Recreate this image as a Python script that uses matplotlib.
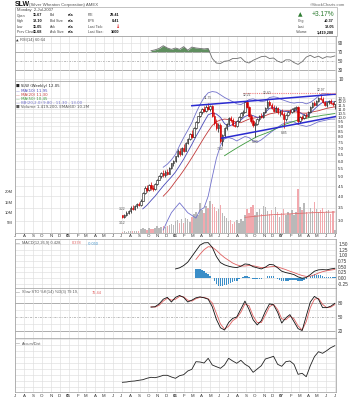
import numpy as np
import pandas as pd
import matplotlib
matplotlib.use("Agg")
import matplotlib.pyplot as plt
import matplotlib.dates as mdates
from matplotlib.patches import Rectangle

plt.rcParams['font.family'] = ['Liberation Sans', 'DejaVu Sans']

# ---------------- data ----------------
WEEK_START = '2005-07-04'
N_WEEKS = 105
OPEN = [3.20, 3.15, 3.22, 3.30, 3.35, 3.50, 3.45, 3.55, 3.65, 3.60, 3.80, 4.15, 4.40, 4.30, 4.55, 4.40, 4.35, 4.60, 4.85, 5.05,
        5.25, 5.10, 5.30, 5.20, 5.55, 5.85, 6.00, 6.35, 6.80, 6.50, 7.00, 6.80, 7.40, 7.80, 8.20, 8.00, 8.80, 9.50, 10.10, 10.70,
        11.00, 10.80, 11.30, 11.00, 11.40, 10.20, 9.40, 8.80, 9.20, 7.60, 8.10, 8.80, 9.30, 9.90, 9.70, 9.20, 9.00, 9.60, 10.00, 10.50,
        10.70, 11.90, 11.30, 10.20, 9.60, 9.20, 9.30, 9.80, 10.20, 10.00, 10.60, 11.20, 12.00, 11.60, 11.20, 10.80, 11.20, 10.60, 10.70, 10.40,
        9.80, 10.30, 10.70, 10.60, 11.00, 11.10, 11.30, 9.60, 10.00, 9.90, 10.30, 10.10, 10.70, 11.30, 11.80, 11.60, 12.10, 12.50, 12.40, 11.90,
        11.50, 11.90, 12.10, 11.80, 11.67]
HIGH = [3.22, 3.25, 3.35, 3.40, 3.55, 3.60, 3.60, 3.70, 3.75, 3.85, 4.20, 4.50, 4.55, 4.60, 4.70, 4.55, 4.65, 4.90, 5.10, 5.30,
        5.45, 5.40, 5.50, 5.60, 5.90, 6.10, 6.40, 6.90, 7.00, 7.10, 7.30, 7.50, 7.90, 8.30, 8.60, 8.90, 9.60, 10.20, 10.80, 11.20,
        11.40, 11.50, 11.75, 11.60, 11.50, 10.60, 9.80, 9.40, 9.40, 8.20, 8.90, 9.40, 10.00, 10.20, 9.90, 9.60, 9.70, 10.10, 10.60, 10.90,
        11.95, 12.21, 11.40, 10.40, 9.80, 9.50, 9.90, 10.30, 10.50, 10.70, 11.30, 12.40, 12.20, 11.80, 11.50, 11.40, 11.30, 10.90, 11.00, 10.60,
        10.40, 10.80, 11.00, 11.10, 11.30, 11.40, 11.40, 10.20, 10.30, 10.40, 10.50, 10.80, 11.40, 11.90, 12.10, 12.20, 12.60, 12.97, 12.60, 12.10,
        12.00, 12.30, 12.40, 11.95, 12.10]
LOW = [3.12, 3.12, 3.18, 3.25, 3.30, 3.40, 3.42, 3.50, 3.55, 3.58, 3.78, 4.10, 4.20, 4.25, 4.30, 4.25, 4.30, 4.55, 4.80, 4.95,
       5.00, 5.00, 5.10, 5.15, 5.50, 5.70, 5.95, 6.30, 6.40, 6.45, 6.70, 6.75, 7.30, 7.70, 7.90, 7.95, 8.70, 9.40, 10.00, 10.40,
       10.60, 10.70, 10.90, 10.80, 10.00, 9.20, 8.60, 8.40, 7.40, 7.20, 8.00, 8.60, 9.20, 9.50, 9.00, 8.90, 8.90, 9.50, 9.90, 10.20,
       10.60, 11.20, 10.00, 9.40, 8.90, 8.00, 9.20, 9.60, 9.90, 9.90, 10.50, 11.10, 11.40, 11.00, 10.60, 10.70, 10.40, 10.20, 10.30, 8.85,
       9.60, 10.20, 10.40, 10.50, 10.70, 10.90, 9.30, 9.40, 9.70, 9.80, 9.90, 10.00, 10.60, 11.20, 11.40, 11.50, 11.90, 12.20, 11.80, 11.40,
       11.30, 11.70, 11.70, 11.40, 11.05]
CLOSE = [3.15, 3.22, 3.30, 3.35, 3.50, 3.45, 3.55, 3.65, 3.60, 3.80, 4.15, 4.40, 4.30, 4.55, 4.40, 4.35, 4.60, 4.85, 5.05, 5.25,
         5.10, 5.30, 5.20, 5.55, 5.85, 6.00, 6.35, 6.80, 6.50, 7.00, 6.80, 7.40, 7.80, 8.20, 8.00, 8.80, 9.50, 10.10, 10.70, 11.00,
         10.80, 11.30, 11.00, 11.40, 10.20, 9.40, 8.80, 9.20, 7.60, 8.10, 8.80, 9.30, 9.90, 9.70, 9.20, 9.00, 9.60, 10.00, 10.50, 10.70,
         11.90, 11.30, 10.20, 9.60, 9.20, 9.30, 9.80, 10.20, 10.00, 10.60, 11.20, 12.00, 11.60, 11.20, 10.80, 11.20, 10.60, 10.70, 10.40, 9.80,
         10.30, 10.70, 10.60, 11.00, 11.10, 11.30, 9.60, 10.00, 9.90, 10.30, 10.10, 10.70, 11.30, 11.80, 11.60, 12.10, 12.50, 12.40, 11.90, 11.50,
         11.90, 12.10, 11.80, 11.68, 12.05]
VOLUME_M = [0.6, 0.8, 0.7, 0.9, 1.0, 0.9, 1.1, 1.0, 1.2, 1.8, 2.4, 2.0, 1.6, 2.2, 1.9, 1.7, 2.5, 3.4, 2.6, 3.0,
            3.6, 2.9, 3.3, 4.0, 4.4, 3.8, 5.6, 6.2, 5.0, 6.8, 4.8, 7.5, 6.9, 5.2, 7.8, 9.2, 10.4, 8.6, 14.8, 11.2,
            9.5, 13.2, 12.0, 15.6, 14.0, 12.4, 10.6, 11.8, 13.8, 9.6, 8.2, 7.4, 5.8, 6.5, 4.6, 5.4, 6.2, 4.8, 7.0, 5.6,
            8.6, 11.6, 9.8, 12.4, 13.5, 8.6, 10.2, 11.8, 9.4, 13.2, 12.6, 10.8, 9.2, 11.4, 8.4, 12.8, 10.0, 7.6, 9.8, 11.6,
            8.8, 10.2, 9.0, 11.4, 8.6, 10.0, 21.6, 12.8, 11.2, 14.6, 10.4, 9.4, 12.2, 10.6, 15.2, 11.8, 10.4, 11.0, 12.0, 9.6,
            10.8, 11.4, 9.2, 10.6, 1.4]

# indicator readings, one value every second week (weeks 0, 2, ..., 104)
MA10 = [None] * 5 + [3.45, 3.60, 3.80, 4.00, 4.25, 4.50, 4.75, 5.00, 5.30, 5.70, 6.15, 6.70, 7.30, 8.00, 8.70, 9.50,
                     10.30, 10.50, 10.40, 10.00, 9.30, 9.00, 9.20, 9.50, 9.70, 10.10, 10.30, 10.20, 10.00, 10.00, 10.60, 11.10,
                     11.20, 11.00, 10.80, 10.70, 10.70, 10.90, 10.70, 10.40, 10.20, 10.50, 11.00, 11.50, 11.90, 12.00, 12.00, 11.95]
MA20 = [None] * 10 + [4.00, 4.20, 4.45, 4.75, 5.05, 5.40, 5.80, 6.25, 6.75, 7.30, 7.90, 8.50, 9.10, 9.50, 9.70, 9.80,
                      9.75, 9.60, 9.40, 9.40, 9.60, 9.80, 9.90, 10.00, 10.05, 10.20, 10.40, 10.50, 10.60, 10.70, 10.80, 10.80,
                      10.70, 10.60, 10.50, 10.50, 10.60, 10.70, 10.80, 10.95, 11.10, 11.20, 11.30]
MA50 = [None] * 25 + [6.40, 6.60, 6.80, 7.00, 7.20, 7.40, 7.60, 7.80, 8.00, 8.15, 8.30, 8.45, 8.65, 8.85, 9.05, 9.25,
                      9.40, 9.55, 9.70, 9.80, 9.90, 10.00, 10.10, 10.15, 10.25, 10.30, 10.38, 10.45]
BB_UPPER = [None] * 10 + [5.6, 5.8, 6.1, 6.5, 7.2, 7.9, 8.6, 9.4, 10.5, 11.6, 12.6, 13.3, 13.5, 13.4, 13.0, 12.6,
                          12.3, 12.0, 11.7, 11.6, 11.9, 12.3, 12.4, 12.2, 12.0, 12.1, 12.6, 12.7, 12.6, 12.3, 12.1, 11.9,
                          11.8, 11.9, 11.9, 11.7, 11.9, 12.3, 12.8, 13.2, 13.2, 13.1, 13.0]
BB_LOWER = [None] * 10 + [2.7, 3.0, 3.3, 3.5, 3.7, 3.5, 3.3, 3.2, 3.1, 3.4, 3.5, 4.0, 5.0, 6.2, 7.2, 7.8,
                          7.9, 7.8, 7.6, 7.8, 8.0, 7.9, 7.6, 7.5, 7.7, 8.0, 8.3, 8.6, 8.9, 9.2, 9.4, 9.5,
                          9.5, 9.2, 9.1, 9.0, 9.1, 9.3, 9.5, 9.6, 9.7, 9.8, 9.8]
VOL_EMA60 = [None] * 30 + [7.6, 7.8, 8.0, 8.2, 8.4, 8.6, 8.8, 8.9, 9.0, 9.1, 9.2, 9.3, 9.4, 9.5, 9.6, 9.7,
                           9.8, 9.9, 10.0, 10.0, 10.1, 10.1, 10.2]
RSI14 = [None] * 7 + [72, 74, 77, 83, 78, 75, 78, 75, 81, 73, 80, 78, 77, 76, 77, 55, 45, 44, 49, 50, 55, 55, 57, 48,
                      45, 51, 55, 59, 60, 55, 56, 49, 46, 52, 52, 46, 42, 48, 58, 62, 57, 60, 55, 59, 58, 60.64]
MACD = [None] * 13 + [0.40, 0.45, 0.55, 0.70, 0.95, 1.20, 1.45, 1.55, 1.56, 1.35, 0.95, 0.68, 0.58, 0.52, 0.48, 0.46,
                      0.52, 0.62, 0.60, 0.50, 0.45, 0.40, 0.48, 0.60, 0.58, 0.45, 0.30, 0.24, 0.20, 0.15, 0.05, -0.01,
                      0.02, 0.15, 0.30, 0.36, 0.37, 0.36, 0.40, 0.428]
MACD_SIGNAL = [None] * 18 + [0.82, 1.05, 1.25, 1.38, 1.36, 1.22, 1.05, 0.90, 0.78, 0.66, 0.58, 0.53, 0.53, 0.55, 0.54,
                             0.50, 0.46, 0.46, 0.49, 0.51, 0.49, 0.43, 0.37, 0.30, 0.24, 0.17, 0.11, 0.07, 0.08, 0.14,
                             0.22, 0.28, 0.32, 0.35, 0.378]
STO_K = [None] * 7 + [71, 72, 78, 88, 92, 82, 92, 96, 92, 82, 86, 91, 93, 91, 88, 72, 45, 27, 22, 38, 47, 50, 67, 84,
                      66, 44, 33, 42, 62, 78, 76, 60, 37, 48, 55, 40, 25, 21, 52, 82, 94, 88, 70, 70, 73, 79.19]
STO_D = [None] * 7 + [72, 71, 75, 84, 90, 86, 88, 94, 93, 86, 84, 89, 92, 92, 89, 80, 58, 35, 24, 30, 42, 48, 60, 78,
                      74, 52, 38, 38, 54, 72, 77, 66, 46, 44, 52, 46, 31, 22, 40, 70, 88, 90, 77, 70, 71, 76.44]
ACC_DIST = [0, 0.6, 2, 2.6, 4, 5.2, 8, 10, 9.2, 11.2, 14, 14, 10.6, 8, 13.2, 15.2, 22.6, 26, 41.2, 40.6, 38.6, 48,
            34.6, 31.2, 28, 34.6, 48, 42.6, 38, 44, 36, 31.2, 20, 26.6, 33.2, 46.6, 49.2, 52, 36, 32, 41.2, 42.6,
            36, 16, 18, 11.2, 33.2, 51.2, 61.2, 58, 63.2, 69.2, 73.2]
# MACD histogram, weekly from week 36
MACD_HIST_START = 36
MACD_HIST = [0.38, 0.40, 0.40, 0.35, 0.30, 0.24, 0.18, 0.08, -0.01, -0.14, -0.27, -0.34, -0.37, -0.35, -0.32, -0.29,
             -0.26, -0.22, -0.18, -0.15, -0.12, -0.05, -0.01, 0.05, 0.09, 0.08, 0.05, 0.00, -0.04, -0.05, -0.05, -0.06,
             -0.06, -0.02, 0.02, 0.07, 0.11, 0.09, 0.07, 0.02, -0.04, -0.09, -0.13, -0.14, -0.13, -0.12, -0.10, -0.09,
             -0.09, -0.10, -0.12, -0.12, -0.12, -0.09, -0.05, 0.01, 0.07, 0.12, 0.16, 0.15, 0.14, 0.12, 0.09, 0.06,
             0.04, 0.05, 0.05, 0.05, 0.05]

# hand-drawn annotations (date, price)
TREND_UP_DATES = ['2006-02-27', '2007-07-06']
TREND_UP_PRICES = [11.45, 13.10]
TREND_LO_DATES = ['2006-06-09', '2007-07-06']
TREND_LO_PRICES = [7.85, 10.10]
RESIST_DATES = ['2006-08-21', '2007-07-06']
RESIST_PRICES = [13.25, 13.25]
HIGH_LABEL_WEEKS = [0, 42, 61, 71, 97]
LOW_LABEL_WEEKS = [0, 48, 65, 79]

MONTH_START = '2004-07-01'
MONTH_END = '2007-07-01'
PRICE_TICKS = [12.5, 12.0, 11.5, 11.0, 10.5, 10.0, 9.5, 9.0, 8.5, 8.0, 7.5, 7.0, 6.5, 6.0, 5.5, 5.0, 4.5, 4.0, 3.5, 3.0]
VOL_TICKS = [5, 10, 15, 20]

# ---------------- figure ----------------
W, H = 352, 400
fig = plt.figure(figsize=(W / 100, H / 100), dpi=100)
fig.patch.set_facecolor('white')

L, R = 15, 336


def px_axes(y0, y1, **kw):
    return fig.add_axes([L / W, 1 - y1 / H, (R - L) / W, (y1 - y0) / H], **kw)


dates = pd.date_range(WEEK_START, periods=N_WEEKS, freq='7D')
xd = mdates.date2num(dates)
xs = xd[::2]
months = pd.date_range(MONTH_START, MONTH_END, freq='MS')
xm = mdates.date2num(months)
X0 = mdates.date2num(pd.Timestamp('2004-07-01'))
X1 = mdates.date2num(pd.Timestamp('2007-07-06'))


def arr(v):
    return np.array([np.nan if a is None else a for a in v], float)


GRID = '#dedede'
SPINE = '#9a9a9a'
TXT = '#333333'
FS = 3.4


def style(ax):
    ax.set_xlim(X0, X1)
    ax.set_xticks(xm)
    ax.tick_params(axis='x', length=0, labelbottom=False)
    ax.grid(True, axis='x', color=GRID, lw=0.45)
    ax.set_axisbelow(True)
    for s in ax.spines.values():
        s.set_color(SPINE)
        s.set_linewidth(0.5)
    ax.yaxis.tick_right()
    ax.tick_params(axis='y', length=0, labelsize=FS, pad=1.5, colors=TXT)


def month_labels(ax, ypix):
    for d, x in zip(months, xm):
        if d.month == 1:
            s, w = d.strftime('%y'), 'bold'
        else:
            s, w = d.strftime('%b')[0], 'normal'
        fig.text((L + (x - X0) / (X1 - X0) * (R - L)) / W, 1 - ypix / H, s, fontsize=3.2,
                 fontweight=w, color=TXT, ha='center', va='center')


# ---------------- header ----------------
hdr = fig.add_axes([0, 0, 1, 1], zorder=10)
hdr.set_xlim(0, W)
hdr.set_ylim(H, 0)
hdr.axis('off')
hdr.patch.set_visible(False)
hdr.text(15, 4.5, 'SLW', fontsize=5.0, fontweight='bold', va='center', color='#111')
hdr.text(29, 4.8, '(Silver Wheaton Corporation) AMEX', fontsize=3.2, va='center', color='#555')
hdr.text(345, 4.8, '\u00a9StockCharts.com', fontsize=3.1, va='center', ha='right', color='#666')
hdr.add_patch(Rectangle((15, 7), 322, 29, fill=False, ec='#aaaaaa', lw=0.5))
hdr.text(17, 10.5, 'Monday  2-Jul-2007', fontsize=3.0, va='center', color='#444')
rows = [15.5, 21, 26.5, 32]
c1 = [('Open', '11.67'), ('High', '12.10'), ('Low', '11.05'), ('Prev Close', '11.68')]
c2 = [('Bid', 'n/a'), ('Bid Size', 'n/a'), ('Ask', 'n/a'), ('Ask Size', 'n/a')]
c3 = [('P/E', '29.41'), ('EPS', '0.41'), ('Last Tick:', None), ('Last Size:', '1600')]
for y, (a, b), (c, d), (e, f) in zip(rows, c1, c2, c3):
    hdr.text(17, y, a, fontsize=2.5, va='center', color='#444')
    hdr.text(42, y, b, fontsize=2.8, va='center', ha='right', fontweight='bold', color='#111')
    hdr.text(50, y, c, fontsize=2.5, va='center', color='#444')
    hdr.text(68, y, d, fontsize=2.8, va='center', fontweight='bold', color='#111')
    hdr.text(88, y, e, fontsize=2.5, va='center', color='#444')
    if f is not None:
        hdr.text(119, y, f, fontsize=2.8, va='center', ha='right', fontweight='bold', color='#111')
    else:
        hdr.text(119, y, '\u2193', fontsize=3.6, va='center', ha='right', fontweight='bold', color='#dd0000',
                 family='DejaVu Sans')
hdr.text(300, 15, '\u25b2', fontsize=4.2, va='center', ha='center', color='#2e7d32', family='DejaVu Sans')
hdr.text(334, 15, '+3.17%', fontsize=4.8, va='center', ha='right', color='#2e7d32')
for y, a, b in [(21, 'Chg', '+0.37'), (26.5, 'Last', '12.05'), (32, 'Volume', '1,419,200')]:
    hdr.text(296 if a == 'Volume' else 298, y, a, fontsize=2.5, va='center', ha='left', color='#444')
    hdr.text(334, y, b, fontsize=2.8, va='center', ha='right', fontweight='bold', color='#111')

# ---------------- RSI panel ----------------
ax_rsi = px_axes(36, 81)
style(ax_rsi)
ax_rsi.set_ylim(5.6, 104.3)
ax_rsi.set_yticks([90, 70, 50, 30, 10])
for v in [90, 10]:
    ax_rsi.axhline(v, color=GRID, lw=0.45, zorder=0)
for v in [70, 30]:
    ax_rsi.axhline(v, color='#a0a0a0', lw=0.6, zorder=0)
ax_rsi.axhline(50, color='#a0a0a0', lw=0.5, ls=(0, (3, 1.5, 1, 1.5)), zorder=0)
rsi = arr(RSI14)
ax_rsi.fill_between(xs, rsi, 70, where=rsi >= 70, interpolate=True, color='#5f8f5f', lw=0)
ax_rsi.plot(xs, rsi, color='#6e6e6e', lw=0.6)
ax_rsi.text(0.004, 0.94, '\u25b2', transform=ax_rsi.transAxes, fontsize=2.4, va='top', color='#333',
            family='DejaVu Sans')
ax_rsi.text(0.015, 0.95, 'RSI(14) 60.64', transform=ax_rsi.transAxes, fontsize=2.9, va='top', color='#555')

# ---------------- price panel ----------------
ax_v = px_axes(81, 233)
style(ax_v)
ax_v.set_ylim(0, 73.8)
ax_v.yaxis.tick_left()
ax_v.set_yticks(VOL_TICKS)
ax_v.set_yticklabels([f'{v}M' for v in VOL_TICKS])
ax_v.tick_params(axis='y', length=0, labelsize=3.0, pad=1.5, colors=TXT)

ax_p = ax_v.twinx()
ax_p.set_yscale('log')
PLO, PHI = 2.606, 15.26
ax_p.set_ylim(PLO, PHI)
ax_p.set_xlim(X0, X1)
ax_p.yaxis.set_major_locator(matplotlib.ticker.FixedLocator(PRICE_TICKS))
ax_p.yaxis.set_minor_locator(matplotlib.ticker.NullLocator())
ax_p.yaxis.set_major_formatter(matplotlib.ticker.FixedFormatter([f'{t:.1f}' for t in PRICE_TICKS]))
ax_p.tick_params(axis='y', length=0, labelsize=3.2, pad=1.5, colors=TXT)
for s in ax_p.spines.values():
    s.set_visible(False)
# price grid drawn on the volume layer so it stays behind the bars
for t in PRICE_TICKS:
    f = (np.log(t) - np.log(PLO)) / (np.log(PHI) - np.log(PLO))
    ax_v.plot([0, 1], [f, f], transform=ax_v.transAxes, color=GRID, lw=0.45, zorder=0)

O, Hh, Lo, C, V = map(np.array, (OPEN, HIGH, LOW, CLOSE, VOLUME_M))
prevC = np.r_[C[0] + 1, C[:-1]]
down = C < prevC
vcol = np.where(down, '#f2a9ae', '#b9b9b9')
ax_v.bar(xd, V, width=5.0, color=vcol, lw=0, zorder=2)
ax_v.plot(xs, arr(VOL_EMA60), color='#e07070', lw=0.6, zorder=3)

ccol = np.where(down, '#d40000', '#111111')
ax_p.vlines(xd, Lo, Hh, colors=ccol, lw=0.5, zorder=4)
face = np.where(C < O, ccol, '#ffffff')
body_lo = np.minimum(O, C)
body_h = np.maximum(np.abs(C - O), 0.01)
ax_p.bar(xd, body_h, bottom=body_lo, width=5.0, color=face, edgecolor=ccol, lw=0.4, zorder=5)

ax_p.plot(xs, arr(BB_UPPER), color='#7272cc', lw=0.6, zorder=3)
ax_p.plot(xs, arr(BB_LOWER), color='#7272cc', lw=0.6, zorder=3)
ax_p.plot(xs, arr(MA50), color='#3c9a3c', lw=0.6, zorder=3)
ax_p.plot(xs, arr(MA20), color='#c23a3a', lw=0.6, zorder=3)
ax_p.plot(xs, arr(MA10), color='#4848b8', lw=0.6, zorder=3)

ax_p.plot(mdates.date2num(pd.to_datetime(TREND_UP_DATES)), TREND_UP_PRICES, color='#2a2ad0', lw=1.1, zorder=6)
ax_p.plot(mdates.date2num(pd.to_datetime(TREND_LO_DATES)), TREND_LO_PRICES, color='#2a2ad0', lw=1.1, zorder=6)
ax_p.plot(mdates.date2num(pd.to_datetime(RESIST_DATES)), RESIST_PRICES, color='#f08080', lw=0.8,
          ls=(0, (1, 1)), zorder=6)
for i in HIGH_LABEL_WEEKS:
    ax_p.annotate(f'{Hh[i]:.2f}', (xd[i], Hh[i]), xytext=(0, 2.5), textcoords='offset points',
                  fontsize=2.4, color='#555', ha='center', va='bottom', zorder=7)
for i in LOW_LABEL_WEEKS:
    ax_p.annotate(f'{Lo[i]:.2f}', (xd[i], Lo[i]), xytext=(0, -2.5), textcoords='offset points',
                  fontsize=2.4, color='#555', ha='center', va='top', zorder=7)

leg = [('\u25a0 SLW (Weekly) 12.05', '#222222'),
       ('\u2014 MA(10) 11.95', '#4848b8'),
       ('\u2014 MA(20) 11.30', '#c23a3a'),
       ('\u2014 MA(50) 10.45', '#3c9a3c'),
       ('\u2014 BB(20,2.0) 9.80 - 11.30 - 13.00', '#7272cc'),
       ('\u25a0 Volume 1,419,200, EMA(60) 10.2M', '#555555')]
for k, (s, c) in enumerate(leg):
    ax_v.text(0.004, 1 - (5.5 + 4.1 * k) / 152, s, transform=ax_v.transAxes, fontsize=2.8, color=c,
              va='center', family=['DejaVu Sans'], zorder=8)

month_labels(ax_v, 236.3)

# ---------------- MACD panel ----------------
ax_m = px_axes(239, 288)
style(ax_m)
ax_m.set_ylim(-0.44, 1.72)
mt = [1.50, 1.25, 1.00, 0.75, 0.50, 0.25, 0.00, -0.25]
ax_m.set_yticks(mt)
ax_m.set_yticklabels([f'{t:.2f}' for t in mt])
for t in mt:
    ax_m.axhline(t, color=GRID, lw=0.45, zorder=0)
hx = xd[MACD_HIST_START:MACD_HIST_START + len(MACD_HIST)]
ax_m.bar(hx, MACD_HIST, width=5.0, color='#3b8ec8', lw=0, zorder=2)
ax_m.plot(xs, arr(MACD_SIGNAL), color='#e06060', lw=0.6, zorder=3)
ax_m.plot(xs, arr(MACD), color='#111111', lw=0.6, zorder=4)
ax_m.text(0.004, 0.955, '\u2014', transform=ax_m.transAxes, fontsize=2.8, color='#333', va='top')
ax_m.text(0.022, 0.95, 'MACD(12,26,9) 0.428, ', transform=ax_m.transAxes, fontsize=2.8, color='#555', va='top')
ax_m.text(0.176, 0.95, '0.378', transform=ax_m.transAxes, fontsize=2.8, color='#e06060', va='top')
ax_m.text(0.22, 0.95, ', 0.050', transform=ax_m.transAxes, fontsize=2.8, color='#3b8ec8', va='top')

# ---------------- Slow STO panel ----------------
ax_s = px_axes(288, 338)
style(ax_s)
ax_s.set_ylim(5, 112)
ax_s.set_yticks([80, 50, 20])
for v in [80, 20]:
    ax_s.axhline(v, color='#a0a0a0', lw=0.6, zorder=0)
for v in [95, 65, 35]:
    ax_s.axhline(v, color=GRID, lw=0.45, zorder=0)
ax_s.axhline(50, color='#a0a0a0', lw=0.5, ls=(0, (3, 1.5, 1, 1.5)), zorder=0)
ax_s.plot(xs, arr(STO_D), color='#e06060', lw=0.6, zorder=3)
ax_s.plot(xs, arr(STO_K), color='#111111', lw=0.6, zorder=4)
ax_s.text(0.004, 0.955, '\u2014', transform=ax_s.transAxes, fontsize=2.8, color='#333', va='top')
ax_s.text(0.022, 0.95, 'Slow STO %K(14) %D(3) 79.19, ', transform=ax_s.transAxes, fontsize=2.8, color='#555',
          va='top')
ax_s.text(0.238, 0.95, '76.44', transform=ax_s.transAxes, fontsize=2.8, color='#e06060', va='top')

# ---------------- Accum/Dist panel ----------------
ax_a = px_axes(338, 392)
style(ax_a)
ax_a.set_ylim(-19.4, 88.6)
ax_a.set_yticks([])
for v in np.arange(-10, 88, 12):
    ax_a.axhline(v, color=GRID, lw=0.45, zorder=0)
ax_a.plot(xs, arr(ACC_DIST), color='#222222', lw=0.6)
ax_a.text(0.004, 0.94, '\u2014', transform=ax_a.transAxes, fontsize=2.8, color='#333', va='top')
ax_a.text(0.022, 0.935, 'Accum/Dist', transform=ax_a.transAxes, fontsize=2.8, color='#555', va='top')
month_labels(ax_a, 396)

fig.savefig('out.png', dpi=100, facecolor='white')
